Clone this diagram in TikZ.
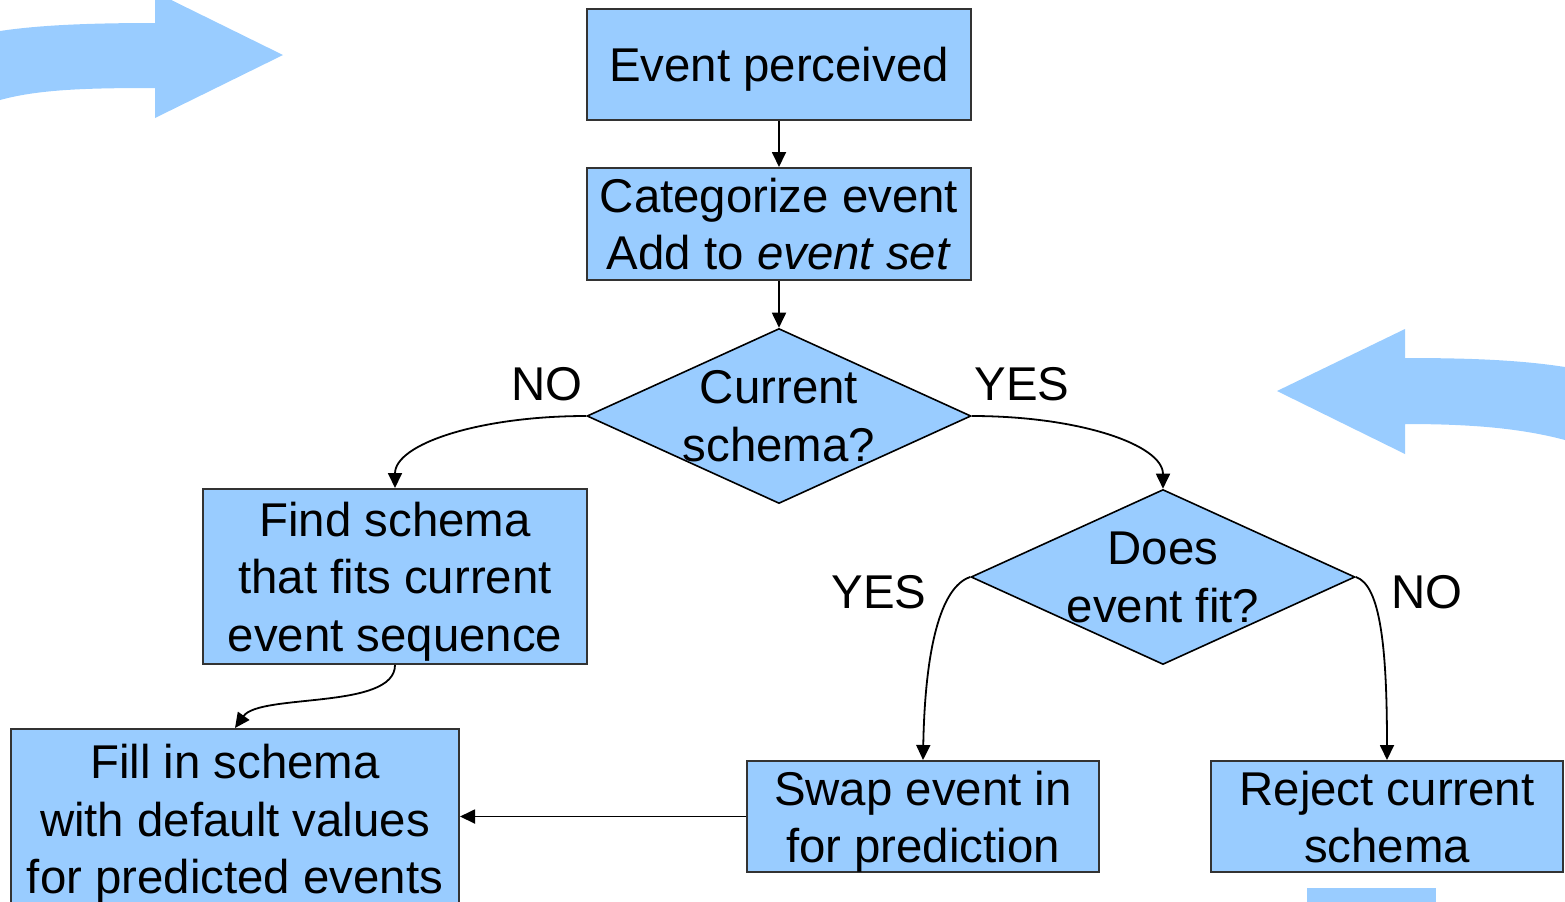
\documentclass[tikz,border=0pt]{standalone}
\usepackage{fontspec}
\setmainfont{Liberation Sans}
\usetikzlibrary{shapes.geometric,arrows.meta}
\definecolor{boxblue}{HTML}{99CCFF}
\definecolor{edgegray}{HTML}{333333}
\newcommand{\mystrut}{\vphantom{pE}}
\begin{document}
\begin{tikzpicture}[x=0.5pt,y=-0.5pt,
  every node/.style={font=\fontsize{23.7}{28.7}\selectfont},
  box/.style={draw=edgegray,line width=1pt,fill=boxblue,rectangle,inner sep=0pt,minimum width=#1},
  box/.default=192pt,
  dia/.style={draw=black,line width=0.8pt,fill=boxblue,diamond,inner sep=0pt,aspect=2.19,minimum width=192pt,minimum height=87.5pt},
  txt/.style={align=center,inner sep=0pt,text=black,yshift=-2.5pt},
  lbl/.style={inner sep=0pt,text=black},
  conn/.style={draw=black,line width=0.9pt,-{Triangle[length=7.5pt,width=7pt]}},
  bigarrow/.style={fill=boxblue,draw=none}
]
\useasboundingbox (0,0) rectangle (1565,901);

% decorative big arrows
\path[bigarrow] (0,31) .. controls (40,25) and (90,23) .. (155,23) -- (155,-8) -- (283,55) -- (155,118) -- (155,88) .. controls (90,88) and (40,89) .. (0,100) -- cycle;
\path[bigarrow] (1565,367) .. controls (1520,360) and (1470,358) .. (1405,358) -- (1405,329) -- (1277,391) -- (1405,454) -- (1405,424) .. controls (1470,424) and (1520,428) .. (1565,440) -- cycle;
\path[bigarrow] (1307,888) rectangle (1436,910);

% boxes
\node[box,minimum height=55.5pt] (ev) at (779,64.5) {};
\node[box,minimum height=56pt] (cat) at (779,224) {};
\node[dia] (cs) at (779,416) {};
\node[box,minimum height=87.5pt] (find) at (395,576.5) {};
\node[dia] (does) at (1163,577) {};
\node[box=224pt,minimum height=90pt] (fill) at (235,819) {};
\node[box=176pt,minimum height=55.5pt] (swap) at (923,816.5) {};
\node[box=176pt,minimum height=55.5pt] (rej) at (1387,816.5) {};

% texts
\node[txt] (evt) at (ev) {\mystrut Event perceived\mystrut};
\node[txt] (catt) at (cat) {\mystrut Categorize event\\Add to \textit{event set}\mystrut};
\node[txt] (cst) at (cs) {\mystrut Current\\schema?\mystrut};
\node[txt] (findt) at (find) {\mystrut Find schema\\that fits current\\event sequence\mystrut};
\node[txt] (doest) at (does) {\mystrut Does\\event fit?\mystrut};
\node[txt] (fillt) at (fill) {\mystrut Fill in schema\\with default values\\for predicted events\mystrut};
\node[txt] (swapt) at (swap) {\mystrut Swap event in\\for prediction\mystrut};
\node[txt] (rejt) at (rej) {\mystrut Reject current\\schema\mystrut};

% branch labels
\node[lbl] (no1) at (547,384) {NO};
\node[lbl] (yes1) at (1022,384) {YES};
\node[lbl] (yes2) at (879,592) {YES};
\node[lbl] (no2) at (1427,592) {NO};

% connectors
\draw[conn] (ev.south) -- (cat.north);
\draw[conn] (cat.south) -- (cs.north);
\draw[conn] (cs.west) .. controls +(-107,0) and +(0,-44) .. (find.north);
\draw[conn] (cs.east) .. controls +(107,0) and +(0,-44) .. (does.north);
\draw[conn] (does.west) .. controls +(-30,10) and +(2,-110) .. (swap.north);
\draw[conn] (does.east) .. controls +(25,8) and +(0,-110) .. (rej.north);
\draw[conn] (find.south) .. controls +(0,45) and +(25,-35) .. (fill.north);
\draw[conn] (swap.west) -- (swap.west -| fill.east);
\end{tikzpicture}
\end{document}
